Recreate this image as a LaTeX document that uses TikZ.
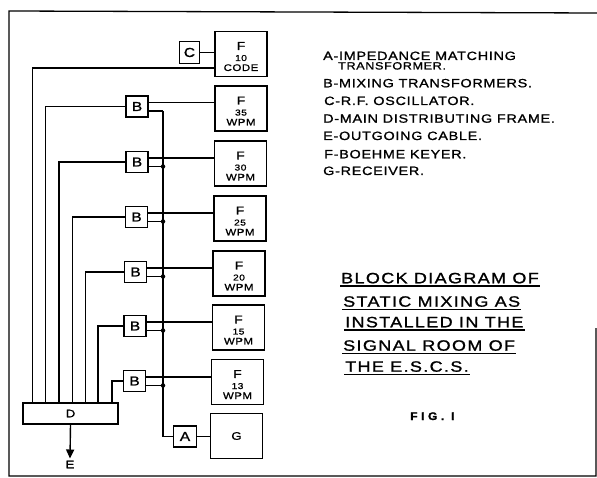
\documentclass[tikz,border=0pt]{standalone}
\usepackage{fontspec}
\usetikzlibrary{arrows.meta}
\newfontfamily\lettering[FakeStretch=1.2,LetterSpace=6,FakeBold=1.2]{Liberation Sans}
\newfontfamily\titlelettering[FakeStretch=1.2,LetterSpace=9,FakeBold=1.2]{Liberation Sans}
\newfontfamily\figlettering[FakeStretch=1.1,LetterSpace=32,FakeBold=1.5]{Liberation Sans Bold}
\newcommand\fkey[2]{\rule{0pt}{13pt}{\fontsize{11.5}{12}\selectfont F}\\[1pt]{\fontsize{8.5}{9}\selectfont #1}\\#2}

\begin{document}
\begin{tikzpicture}[
  x=1pt, y=-1pt,
  box/.style={rectangle, draw, line width=1.1pt, inner sep=0pt, font=\lettering\fontsize{13}{13}\selectfont},
  small box/.style={box, minimum width=22pt, minimum height=21pt},
  keyer/.style={box, minimum width=52pt, minimum height=45pt, align=center, font=\lettering\fontsize{9.5}{10}\selectfont},
  wire/.style={line width=1.4pt},
  upper/.style={transform canvas={yshift=4pt}},
  lower/.style={transform canvas={yshift=-4.5pt}},
  junction/.style={circle, fill, inner sep=0pt, minimum size=4.5pt},
  legend/.style={anchor=base west, inner sep=0pt, font=\lettering\fontsize{12}{12}\selectfont},
  title/.style={anchor=base west, inner xsep=1pt, inner ysep=2.5pt, font=\titlelettering\fontsize{15}{15}\selectfont}
]
  \useasboundingbox (0,0) rectangle (597,478);
  \draw[line width=1.3pt] (596,328) -- (596,476) -- (9,476) -- (9,11) -- (597,13);

  \node[small box, minimum width=20pt, minimum height=22pt] (C) at (189.5,52.5) {C};
  \node[keyer] (F10) at (241,54)    {\fkey{10}{CODE}};
  \node[keyer] (F35) at (241,108.5) {\fkey{35}{WPM}};
  \node[keyer] (F30) at (240.5,163.5) {\fkey{30}{WPM}};
  \node[keyer] (F25) at (240,218.5) {\fkey{25}{WPM}};
  \node[keyer] (F20) at (239,273.5) {\fkey{20}{WPM}};
  \node[keyer] (F15) at (238.5,327.5) {\fkey{15}{WPM}};
  \node[keyer] (F13) at (237.5,382) {\fkey{13}{WPM}};
  \node[keyer, font=\lettering\fontsize{11}{11}\selectfont] (G) at (236.5,436) {G};

  \node[small box] (B35) at (137,106.5) {B};
  \node[small box] (B30) at (137,162)   {B};
  \node[small box] (B25) at (136.5,217) {B};
  \node[small box] (B20) at (135.5,272) {B};
  \node[small box] (B15) at (135,326)   {B};
  \node[small box] (B13) at (134.5,381) {B};
  \node[small box, minimum width=23pt] (A) at (185,436.5) {A};
  \node[box, minimum width=95pt, minimum height=21pt, font=\lettering\fontsize{11}{11}\selectfont] (D) at (70.5,413.5) {D};
  \node[inner sep=2pt, font=\lettering\fontsize{11}{11}\selectfont] (E) at (70,464.5) {E};

  \coordinate (d1) at (32.5,403);
  \coordinate (d2) at (45.5,403);
  \coordinate (d3) at (59,403);
  \coordinate (d4) at (72.5,403);
  \coordinate (d5) at (85.5,403);
  \coordinate (d6) at (98,403);
  \coordinate (d7) at (112,403);
  \coordinate (bus) at (163,111);

  \draw[wire] (C.east) -- (C.east -| F10.west);
  \draw[wire] ([yshift=-14pt]F10.west) -| (d1);
  \draw[wire] (B35.west) -| (d2);
  \draw[wire] (B30.west) -| (d3);
  \draw[wire] (B25.west) -| (d4);
  \draw[wire] (B20.west) -| (d5);
  \draw[wire] (B15.west) -| (d6);
  \draw[wire] (B13.west) -| (d7);

  \draw[wire, upper] (B35.east) -- (B35.east -| F35.west);
  \draw[wire, upper] (B30.east) -- (B30.east -| F30.west);
  \draw[wire, upper] (B25.east) -- (B25.east -| F25.west);
  \draw[wire, upper] (B20.east) -- (B20.east -| F20.west);
  \draw[wire, upper] (B15.east) -- (B15.east -| F15.west);
  \draw[wire, upper] (B13.east) -- (B13.east -| F13.west);

  \draw[wire, lower] (B35.east) -- (B35.east -| bus);
  \draw[wire, lower] (B30.east) -- (B30.east -| bus) node[junction] {};
  \draw[wire, lower] (B25.east) -- (B25.east -| bus) node[junction] {};
  \draw[wire, lower] (B20.east) -- (B20.east -| bus) node[junction] {};
  \draw[wire, lower] (B15.east) -- (B15.east -| bus) node[junction] {};
  \draw[wire, lower] (B13.east) -- (B13.east -| bus) node[junction] {};
  \draw[wire] (bus) |- (A.west);
  \draw[wire] (A.east) -- (A.east -| G.west);
  \draw[wire, -{Triangle[length=9pt,width=8pt]}] (D.south) -- (E.north);

  \node[legend] (lA)  at (323,60)    {A-IMPEDANCE MATCHING};
  \node[legend, font=\lettering\fontsize{10.5}{10.5}\selectfont] (lA2) at (338,69.5) {TRANSFORMER.};
  \node[legend] (lB)  at (323,87.3)  {B-MIXING TRANSFORMERS.};
  \node[legend] (lC)  at (324,105)   {C-R.F. OSCILLATOR.};
  \node[legend] (lD)  at (323,122.7) {D-MAIN DISTRIBUTING FRAME.};
  \node[legend] (lE)  at (323,140)   {E-OUTGOING CABLE.};
  \node[legend] (lF)  at (324,158.3) {F-BOEHME KEYER.};
  \node[legend] (lG)  at (323,175)   {G-RECEIVER.};

  \node[title] (t1) at (340,283.3) {BLOCK DIAGRAM OF};
  \node[title] (t2) at (342,306.7) {STATIC MIXING AS};
  \node[title] (t3) at (344,327.3) {INSTALLED IN THE};
  \node[title] (t4) at (342,350.7) {SIGNAL ROOM OF};
  \node[title] (t5) at (344,371.7) {THE E.S.C.S.};
  \draw[line width=1.4pt] (t1.south west) -- (t1.south east);
  \draw[line width=1.4pt] (t2.south west) -- (t2.south east);
  \draw[line width=1.4pt] (t3.south west) -- (t3.south east);
  \draw[line width=1.4pt] (t4.south west) -- (t4.south east);
  \draw[line width=1.4pt] (t5.south west) -- (t5.south east);

  \node[anchor=base west, inner sep=0pt, font=\figlettering\fontsize{11}{11}\selectfont] (fig) at (410,420) {FIG. I};
\end{tikzpicture}
\end{document}
